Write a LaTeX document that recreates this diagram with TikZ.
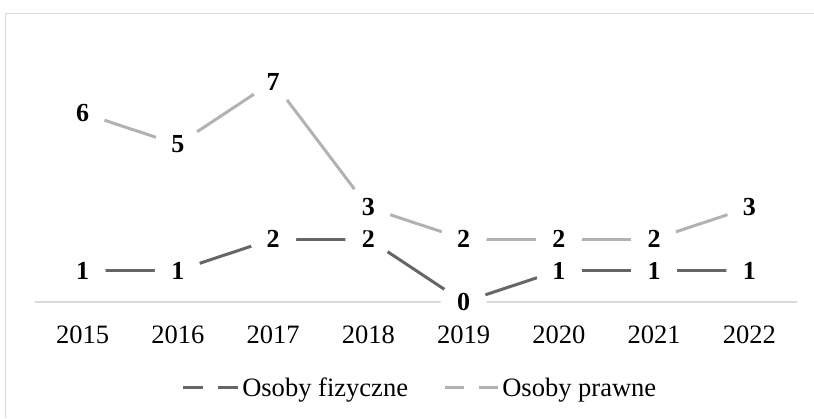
\documentclass[tikz,border=0pt]{standalone}
\usepackage{fontspec}
\setmainfont{Liberation Serif}
\definecolor{fizc}{gray}{0.4}
\definecolor{prawc}{gray}{0.7}
\definecolor{gridc}{HTML}{D9D9D9}
\begin{document}
\begin{tikzpicture}[x=0.75pt,y=-0.75pt,
  val/.style={circle, fill=white, inner sep=0pt, minimum size=34.5pt,
              font=\fontsize{19.5}{21}\selectfont\bfseries},
  yr/.style={anchor=base, inner sep=0pt, font=\fontsize{19.9}{22}\selectfont},
  leg/.style={anchor=base west, inner sep=0pt, font=\fontsize{19.9}{22}\selectfont},
  fizline/.style={draw=fizc, line width=2.25pt},
  prawline/.style={draw=prawc, line width=2.25pt},
  axisline/.style={draw=gridc, line width=1.1pt}]
\useasboundingbox (0,0) rectangle (814,418);
% frame
\draw[axisline] (5.5,418) -- (5.5,13.5) -- (814,13.5);
% category axis
\coordinate (axL) at (35,302);
\coordinate (axR) at (797,302);
\draw[axisline] (axL) -- (axR);
% year labels
\foreach \yy [count=\i from 0] in {2015,2016,2017,2018,2019,2020,2021,2022}
  \node[yr] (yr\i) at ({82.6+95.25*\i},343) {\yy};
% series lines (drawn first, then labels on white circles)
\foreach \v [count=\i from 0] in {1,1,2,2,0,1,1,1}
  \coordinate (f\i) at ({82.6+95.25*\i},{302-31.5*\v});
\foreach \v [count=\i from 0] in {6,5,7,3,2,2,2,3}
  \coordinate (p\i) at ({82.6+95.25*\i},{302-31.5*\v});
\foreach \i [evaluate=\i as \j using int(\i+1)] in {0,...,6} {
  \draw[prawline] (p\i) -- (p\j);
  \draw[fizline] (f\i) -- (f\j);
}
\foreach \v [count=\i from 0] in {1,1,2,2,0,1,1,1}
  \node[val] (lf\i) at (f\i) {\v};
\foreach \v [count=\i from 0] in {6,5,7,3,2,2,2,3}
  \node[val] (lp\i) at (p\i) {\v};
% legend
\draw[fizline] (183,387) -- (203,387);
\draw[fizline] (218,387) -- (238,387);
\node[leg] (legf) at (242,396) {Osoby fizyczne};
\draw[prawline] (445,387) -- (464,387);
\draw[prawline] (479,387) -- (498,387);
\node[leg] (legp) at (502,396) {Osoby prawne};
\end{tikzpicture}
\end{document}
